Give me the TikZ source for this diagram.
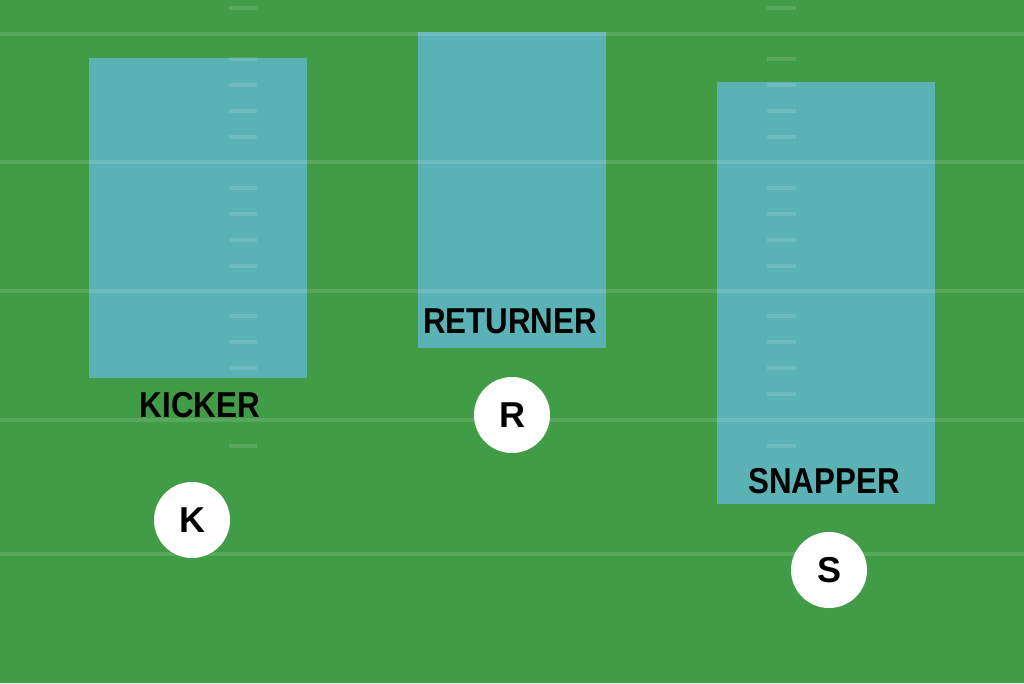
\documentclass[tikz,border=0pt]{standalone}
\usepackage{fontspec}
\setmainfont{Liberation Sans}
\definecolor{fieldgreen}{RGB}{65,156,70}
\definecolor{zonecyan}{RGB}{90,178,181}
\begin{document}
\begin{tikzpicture}[x=1pt,y=-1pt,
  yardline/.style={draw=white, draw opacity=0.12, line width=4.5pt},
  hashmark/.style={draw=white, draw opacity=0.12, line width=4pt},
  zone/.style={fill=zonecyan, draw=none},
  lbl/.style={font=\fontsize{36}{36}\selectfont\bfseries, text=black, inner sep=0pt, xscale=0.87},
  player/.style={circle, fill=white, draw=none, minimum size=76pt, inner sep=0pt, font=\fontsize{36}{36}\selectfont\bfseries, text=black}]
\fill[fieldgreen] (0,0) rectangle (1024,683);
\useasboundingbox (0,0) rectangle (1024,683);
% coverage zones
\fill[zone] (89,58) rectangle (307,378);
\fill[zone] (418,32) rectangle (606,348);
\fill[zone] (717,82) rectangle (935,504);
% yard lines
\foreach \yy in {34,162,291,420,554}
  \draw[yardline] (0,\yy) -- (1024,\yy);
% hash marks
\foreach \yy in {8,59,85,111,137,188,214,240,266,316,342,368,446}
  \draw[hashmark] (229,\yy) -- (257,\yy);
\foreach \yy in {8,59,85,111,137,188,214,240,266,316,342,368,394,446}
  \draw[hashmark] (767,\yy) -- (796,\yy);
% labels
\node[lbl] (kicker) at (200,405) {KICKER};
\node[lbl] (returner) at (510,321.5) {RETURNER};
\node[lbl] (snapper) at (824,481.5) {SNAPPER};
% players
\node[player] (K) at (192,520) {K};
\node[player] (R) at (512,415) {R};
\node[player] (S) at (829,570) {S};
\end{tikzpicture}
\end{document}
